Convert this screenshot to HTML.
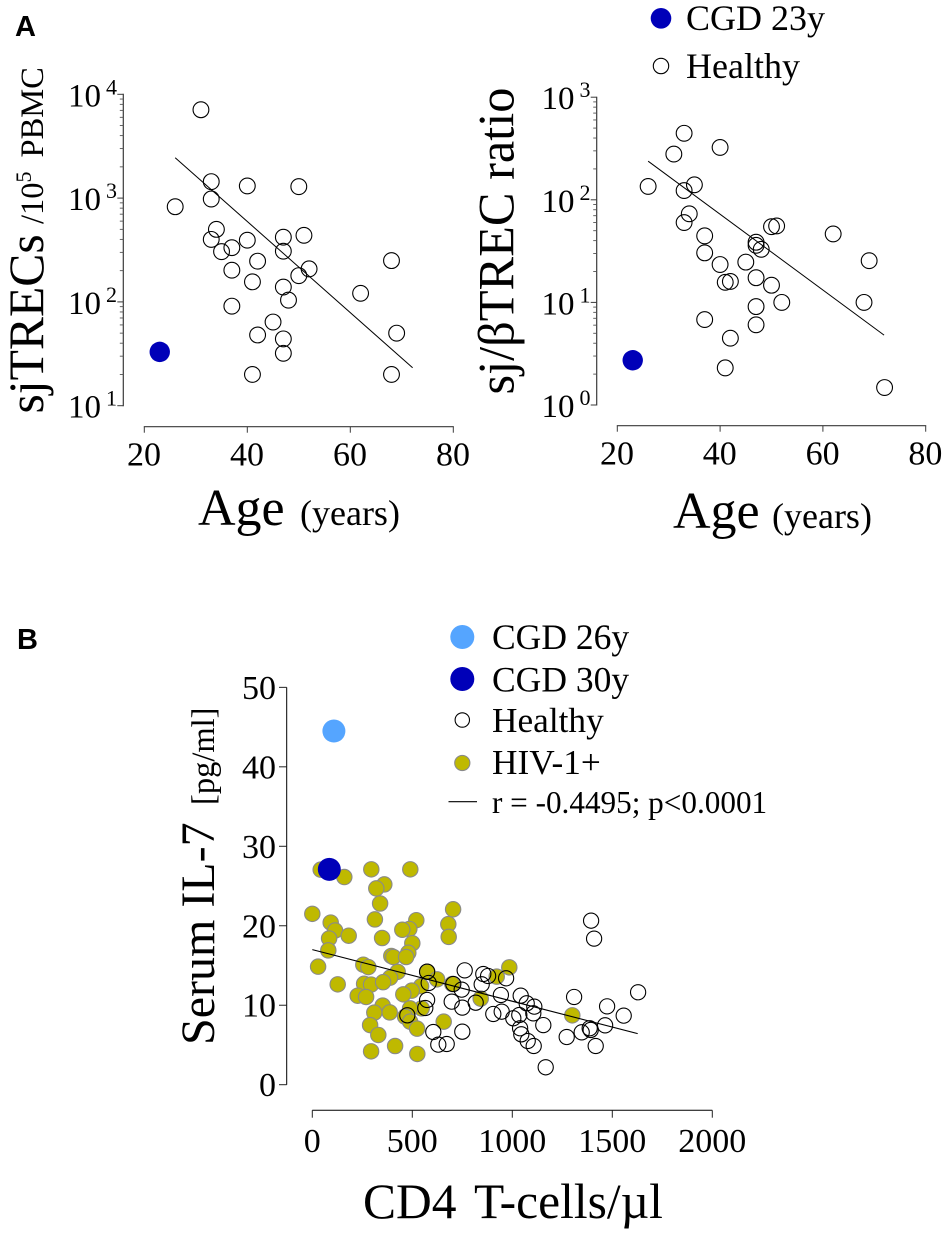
<!DOCTYPE html>
<html lang="en">
<head>
<meta charset="utf-8">
<title>sjTREC and IL-7 charts</title>
<style>
html,body{margin:0;padding:0;background:#fff;}
svg{display:block;}
text{font-family:"Liberation Serif",serif;fill:#000;}
.panel{font-family:"Liberation Sans",sans-serif;font-weight:bold;font-size:29px;}
</style>
</head>
<body>
<svg id="fig" xmlns="http://www.w3.org/2000/svg" width="943" height="1233" viewBox="0 0 943 1233">
  <rect width="943" height="1233" fill="#fff"/>
  <text class="panel" x="15" y="36">A</text>
  <text class="panel" x="17" y="649">B</text>

  <text transform="translate(43,413.5) rotate(-90)" font-size="49.6">sjTRECs</text>
  <text transform="translate(43,224) rotate(-90)" font-size="32.5">/10<tspan font-size="22" dy="-12">5</tspan></text>
  <text transform="translate(43,157.5) rotate(-90)" font-size="32.5">PBMC</text>
  <text x="198" y="525" font-size="52">Age</text>
  <text x="300" y="525" font-size="36">(years)</text>

  <text transform="translate(513.3,394.5) rotate(-90)" font-size="50.4">sj/βTREC ratio</text>
  <text x="673" y="528" font-size="52">Age</text>
  <text x="772" y="528" font-size="36">(years)</text>

  <g>
    <g>
      <circle cx="661" cy="18.3" r="10.3" fill="#0000b8"/>
      <text x="686" y="30" font-size="36">CGD 23y</text>
    </g>
    <g>
      <circle cx="661" cy="66" r="7.7" fill="none" stroke="#000" stroke-width="1.1"/>
      <text x="686" y="78" font-size="36">Healthy</text>
    </g>
  </g>

  <text transform="translate(214,1045) rotate(-90)" font-size="48">Serum IL-7</text>
  <text transform="translate(214,805) rotate(-90)" font-size="32.5">[pg/ml]</text>
  <text x="363" y="1218" font-size="49.5" word-spacing="6">CD4 T-cells/µl</text>

  <g>
    <g>
      <circle cx="462.3" cy="637" r="12" fill="#55a5ff"/>
      <text x="492" y="649" font-size="35.5">CGD 26y</text>
    </g>
    <g>
      <circle cx="462.3" cy="679" r="12" fill="#0000b8"/>
      <text x="492" y="691.5" font-size="35.5">CGD 30y</text>
    </g>
    <g>
      <circle cx="462.3" cy="720" r="7.2" fill="none" stroke="#000" stroke-width="1.1"/>
      <text x="492" y="732" font-size="35.3">Healthy</text>
    </g>
    <g>
      <circle cx="462.3" cy="763" r="7.6" fill="#bfb900" stroke="#8a8a8a" stroke-width="1.1"/>
      <text x="492" y="774" font-size="35.3">HIV-1+</text>
    </g>
    <g>
      <line x1="448.5" x2="477" y1="801.7" y2="801.7" stroke="#000" stroke-width="1.1"/>
      <text x="492" y="813" font-size="31.2">r = -0.4495; p&lt;0.0001</text>
    </g>
  </g>
</svg>
<script>
// Panel A left: sjTRECs per 10^5 PBMC vs age
const trecAges = [31,26,33,33,40,50,34,33,35,37,40,47,47,51,42,37,41,52,50,47,48,37,62,68,69,68,41,42,45,47,47];
const trecValues = [7100,826,1440,980,1310,1290,500,400,305,333,393,420,308,438,247,202,156,208,179,139,104,91,121,250,50,20,20,48,64,44,32];
const trecCgdAge = [23];
const trecCgdValue = [33];
const trecFitAges = [26,72.1];
const trecFitValues = [2449,23.2];
const trecYTickExponents = [1,2,3,4];

// Panel A right: sj/beta TREC ratio vs age
const ratioAges = [33,31,40,26,33,35,34,33,37,37,40,41,42,45,47,47,48,50,51,47,50,52,47,47,37,42,41,62,69,68,72];
const ratioValues = [445,279,324,135,123,140,73,60,44.5,30.4,23.4,15.7,16,24.7,38.6,36,32.9,54.7,55.6,17.4,14.7,10,9.1,6.05,6.8,4.48,2.3,46.5,25.5,10,1.48];
const ratioCgdAge = [23];
const ratioCgdValue = [2.73];
const ratioFitAges = [26,71.9];
const ratioFitValues = [238,4.8];
const ratioYTickExponents = [0,1,2,3];

const ageTicks = [20,40,60,80];

// Panel B: serum IL-7 vs CD4 count
const hivCd4 = [42,160,295,490,360,320,339,0,92,313,520,704,680,682,485,450,114,84,182,349,500,80,480,395,405,469,29,255,280,427,575,624,389,127,259,294,354,700,544,497,455,227,269,842,352,310,387,547,489,464,489,289,524,657,330,414,294,525,985,922,1300];
const hivIl7 = [27.06,26.13,27.1,27.1,25.2,24.7,22.8,21.5,20.4,20.8,20.7,22.07,20.2,18.6,19.6,19.5,19.4,18.4,18.75,18.46,17.8,16.9,16.6,16.2,16.07,16.07,14.85,15.1,14.8,14.2,14.2,13.26,13.47,12.63,12.7,12.6,12.9,12.67,12.4,11.83,11.37,11.2,11.04,10.83,9.95,9.07,9.1,9.6,9.6,8.56,7.93,7.5,7.05,7.93,6.26,4.87,4.2,3.87,14.77,13.6,8.73];
const healthyCd4 = [574,582,762,855,879,847,705,747,574,697,750,817,565,475,605,750,630,672,1394,1409,1629,1309,1474,1557,1042,943,969,1072,1110,1105,947,905,1005,1035,1039,1045,1077,1107,1155,1272,1347,1387,1392,1464,1417,1167];
const healthyIl7 = [14.22,12.8,14.39,13.93,13.68,12.63,12.67,11.96,10.66,10.45,9.7,10.32,9.65,8.73,6.63,6.67,5.04,5.12,20.64,18.38,11.63,11.04,9.86,8.69,11.2,11.29,13.39,10.24,9.82,8.98,9.19,8.9,8.36,8.77,7.1,6.34,5.5,4.87,7.5,6.0,6.59,7.1,6.89,7.47,4.87,2.19];
const cgd26Cd4 = [108];
const cgd26Il7 = [44.5];
const cgd30Cd4 = [85];
const cgd30Il7 = [27.1];
const fitCd4 = [0,1627];
const fitIl7 = [17.0,6.43];
const cd4Ticks = [0,500,1000,1500,2000];
const il7Ticks = [0,10,20,30,40,50];

const SVGNS = 'http://www.w3.org/2000/svg';
const fig = document.getElementById('fig');

function mk(tag, parent, attrs) {
  const el = document.createElementNS(SVGNS, tag);
  for (const k in attrs) el.setAttribute(k, attrs[k]);
  parent.appendChild(el);
  return el;
}
function group(name) {
  const g = mk('g', fig, {});
  
  
  return g;
}
function dot(parent, cx, cy, r, fill, stroke, sw, name) {
  const c = mk('circle', parent, {cx: cx, cy: cy, r: r, fill: fill, stroke: stroke, 'stroke-width': sw});
  
  
  return c;
}
function segment(parent, x1, y1, x2, y2, color, sw, name) {
  const l = mk('line', parent, {x1: x1, y1: y1, x2: x2, y2: y2, stroke: color, 'stroke-width': sw});
  
  
  return l;
}
function label(parent, x, y, str, size, anchor, name) {
  const t = mk('text', parent, {x: x, y: y, 'font-size': size, 'text-anchor': anchor});
  t.textContent = str;
  
  
  return t;
}

function logPanel(cfg) {
  const xPos = v => cfg.x0 + (v - 20) * cfg.xScale;
  const yPos = v => cfg.yBase - (Math.log10(v) - cfg.exps[0]) * cfg.decade;
  const axes = group(cfg.id + '-axes');
  const color = '#3a3a3a';
  const expMax = cfg.exps[cfg.exps.length - 1];
  segment(axes, cfg.axisX, yPos(Math.pow(10, expMax)) - 0.5, cfg.axisX, cfg.yBase + 0.5, color, 1.2, cfg.id + '-y-axis-line');
  cfg.exps.forEach(function (e, i) {
    const yv = yPos(Math.pow(10, e));
    segment(axes, cfg.axisX - 6, yv, cfg.axisX, yv, color, 1, cfg.id + '-y-tick-major');
    const t = label(axes, cfg.labelX, yv + 12, '10', 33, 'start', cfg.id + '-y-tick-label');
    const sup = mk('tspan', t, {dx: 5, dy: -12, 'font-size': 22});
    sup.textContent = String(e);
    if (i < cfg.exps.length - 1) {
      for (let m = 2; m <= 9; m++) {
        const ym = yPos(m * Math.pow(10, e));
        segment(axes, cfg.axisX - 3.5, ym, cfg.axisX, ym, '#555', 0.9, cfg.id + '-y-tick-minor');
      }
    }
  });
  segment(axes, xPos(ageTicks[0]) - 0.5, cfg.axisY, xPos(ageTicks[ageTicks.length - 1]) + 0.5, cfg.axisY, color, 1.1, cfg.id + '-x-axis-line');
  ageTicks.forEach(function (v) {
    segment(axes, xPos(v), cfg.axisY, xPos(v), cfg.axisY + 6, color, 1, cfg.id + '-x-tick');
    label(axes, xPos(v) - 0.3, cfg.tickBase, String(v), 34, 'middle', cfg.id + '-x-tick-label');
  });
  const marks = group(cfg.id + '-marks');
  segment(marks, xPos(cfg.fitX[0]), yPos(cfg.fitY[0]), xPos(cfg.fitX[1]), yPos(cfg.fitY[1]), '#000', 1, cfg.id + '-fit-line');
  cfg.ages.forEach(function (a, i) {
    dot(marks, xPos(a), yPos(cfg.values[i]), 7.9, 'none', '#000', 1.1, cfg.id + '-healthy-point');
  });
  cfg.cgdX.forEach(function (a, i) {
    dot(marks, xPos(a), yPos(cfg.cgdY[i]), 10.2, '#0000b8', 'none', 0, cfg.id + '-cgd-point');
  });
}

logPanel({
  id: 'trec', x0: 144.3, xScale: 5.15, yBase: 405.7, decade: 103.8, axisX: 123.3, axisY: 426.7,
  labelX: 68, tickBase: 465.7, exps: trecYTickExponents, ages: trecAges, values: trecValues,
  cgdX: trecCgdAge, cgdY: trecCgdValue, fitX: trecFitAges, fitY: trecFitValues
});
logPanel({
  id: 'ratio', x0: 617.3, xScale: 5.14, yBase: 405, decade: 102.6, axisX: 596.7, axisY: 425.7,
  labelX: 541.5, tickBase: 464.3, exps: ratioYTickExponents, ages: ratioAges, values: ratioValues,
  cgdX: ratioCgdAge, cgdY: ratioCgdValue, fitX: ratioFitAges, fitY: ratioFitValues
});

// Panel B
const xB = v => 312.3 + v * 0.2;
const yB = v => 1084.7 - v * 7.947;
const axesB = group('il7-axes');
segment(axesB, 286.7, yB(il7Ticks[il7Ticks.length - 1]), 286.7, yB(il7Ticks[0]), '#000', 1, 'il7-y-axis-line');
il7Ticks.forEach(function (v) {
  segment(axesB, 279, yB(v), 286.7, yB(v), '#222', 1, 'il7-y-tick');
  label(axesB, 276, yB(v) + 11.5, String(v), 34, 'end', 'il7-y-tick-label');
});
segment(axesB, xB(cd4Ticks[0]), 1110.3, xB(cd4Ticks[cd4Ticks.length - 1]), 1110.3, '#000', 1, 'il7-x-axis-line');
cd4Ticks.forEach(function (v) {
  segment(axesB, xB(v), 1110.3, xB(v), 1117.7, '#222', 1, 'il7-x-tick');
  label(axesB, xB(v), 1152, String(v), 34, 'middle', 'il7-x-tick-label');
});
const marksB = group('il7-marks');
hivCd4.forEach(function (v, i) {
  dot(marksB, xB(v), yB(hivIl7[i]), 7.7, '#bfb900', '#8a8a8a', 1.1, 'hiv-point');
});
segment(marksB, xB(fitCd4[0]), yB(fitIl7[0]), xB(fitCd4[1]), yB(fitIl7[1]), '#000', 1.1, 'il7-fit-line');
healthyCd4.forEach(function (v, i) {
  dot(marksB, xB(v), yB(healthyIl7[i]), 7.6, 'none', '#000', 1.1, 'healthy-point');
});
cgd26Cd4.forEach(function (v, i) {
  dot(marksB, xB(v), yB(cgd26Il7[i]), 11.5, '#55a5ff', 'none', 0, 'cgd-26y-point');
});
cgd30Cd4.forEach(function (v, i) {
  dot(marksB, xB(v), yB(cgd30Il7[i]), 11.5, '#0000b8', 'none', 0, 'cgd-30y-point');
});
</script>
</body>
</html>
